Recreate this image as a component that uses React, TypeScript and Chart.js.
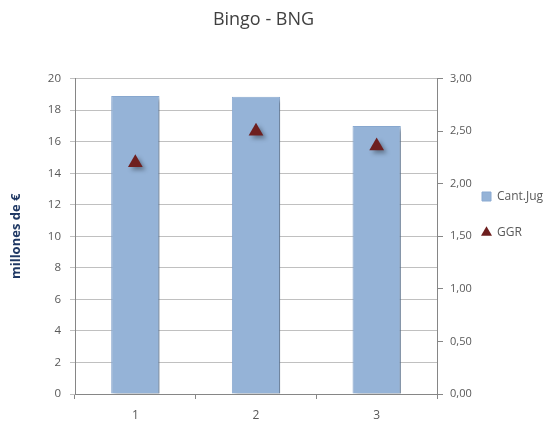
import React, { useEffect, useRef } from "react";
import { Chart, registerables } from "chart.js";

Chart.register(...registerables);

const categories = ["1", "2", "3"];
const cantJug = [18.9, 18.85, 17.0];
const ggr = [2.2, 2.5, 2.36];
const leftTicks = [0, 2, 4, 6, 8, 10, 12, 14, 16, 18, 20];
const rightTicks = [0, 0.5, 1, 1.5, 2, 2.5, 3];

const FONT = "'Open Sans', 'Noto Sans', sans-serif";

const shadowPlugin = {
  id: "shadowPlugin",
  beforeDatasetDraw(chart: any) {
    const ctx = chart.ctx;
    ctx.save();
    ctx.shadowColor = "rgba(0,0,0,0.35)";
    ctx.shadowBlur = 4;
    ctx.shadowOffsetX = 3;
    ctx.shadowOffsetY = 3;
  },
  afterDatasetDraw(chart: any) {
    chart.ctx.restore();
  },
};

// widen the right scale's label clip area without moving the legend
const layoutTweak = {
  id: "layoutTweak",
  afterLayout(chart: any) {
    const s = chart.scales.y1;
    if (s) {
      s.right = s.left + 45;
      s.width = 45;
    }
    const lg = chart.legend;
    if (lg) {
      lg.top += 4;
      lg.bottom += 4;
    }
  },
};

export default function App() {
  const ref = useRef<HTMLCanvasElement | null>(null);
  useEffect(() => {
    if (!ref.current) return;
    const chart = new Chart(ref.current, {
      type: "bar",
      data: {
        labels: categories,
        datasets: [
          {
            type: "line",
            label: "GGR",
            data: ggr,
            yAxisID: "y1",
            showLine: false,
            pointStyle: "triangle",
            pointRadius: 8.5,
            pointHoverRadius: 8.5,
            backgroundColor: "#6E1F1F",
            borderColor: "#6E1F1F",
            borderWidth: 0,
            order: 0,
          } as any,
          {
            type: "bar",
            label: "Cant.Jug",
            data: cantJug,
            yAxisID: "y",
            backgroundColor: "#95B3D7",
            borderColor: "#8AAAD2",
            borderWidth: 1,
            categoryPercentage: 0.8,
            barPercentage: 0.5,
            pointStyle: "rect",
            order: 1,
          } as any,
        ],
      },
      options: {
        animation: false,
        responsive: true,
        maintainAspectRatio: false,
        layout: { padding: { left: -20, right: 0, top: 0, bottom: 0 } },
        plugins: {
          title: {
            display: true,
            text: "Bingo - BNG",
            color: "#404040",
            font: { family: FONT, size: 18, weight: "normal" },
            padding: { top: 9, bottom: 48 },
          },
          legend: {
            position: "right",
            reverse: true,
            maxWidth: 89,
            labels: {
              color: "#595959",
              font: { family: FONT, size: 12 },
              usePointStyle: true,
              boxWidth: 9,
              boxHeight: 9,
              padding: 24,
            },
          },
          tooltip: { enabled: false },
        },
        scales: {
          x: {
            offset: true,
            afterFit: (s: any) => {
              s.height = 27;
            },
            grid: {
              offset: true,
              drawOnChartArea: false,
              drawTicks: true,
              tickLength: 5,
              color: "#868686",
            },
            border: { color: "#868686" },
            ticks: {
              color: "#595959",
              font: { family: FONT, size: 12 },
              padding: 9,
            },
          },
          y: {
            position: "left",
            min: 0,
            max: 20,
            afterBuildTicks: (s: any) => {
              s.ticks = leftTicks.map((v) => ({ value: v }));
            },
            afterFit: (s: any) => {
              s.width = 95;
            },
            title: {
              display: true,
              text: "millones de €",
              color: "#1F3864",
              font: { family: FONT, size: 13, weight: "bold" },
              padding: { top: 28, bottom: 4 },
            },
            grid: {
              color: "#C0C0C0",
              tickLength: 5,
              drawTicks: true,
            },
            border: { color: "#868686" },
            ticks: {
              color: "#595959",
              font: { family: FONT, size: 11.5 },
              padding: 9,
            },
          },
          y1: {
            position: "right",
            min: 0,
            max: 3,
            afterBuildTicks: (s: any) => {
              s.ticks = rightTicks.map((v) => ({ value: v }));
            },
            afterFit: (s: any) => {
              s.width = 21;
            },
            grid: {
              drawOnChartArea: false,
              drawTicks: true,
              tickLength: 6,
              color: "#868686",
            },
            border: { color: "#868686" },
            ticks: {
              color: "#595959",
              font: { family: FONT, size: 11 },
              padding: 7,
              callback: (v: any) => Number(v).toFixed(2).replace(".", ","),
            },
          },
        },
      },
      plugins: [shadowPlugin, layoutTweak],
    });
    return () => chart.destroy();
  }, []);
  return (
    <div style={{ position: "absolute", left: 0, top: 0, width: 547, height: 421, background: "#fff" }}>
      <canvas ref={ref} />
    </div>
  );
}
